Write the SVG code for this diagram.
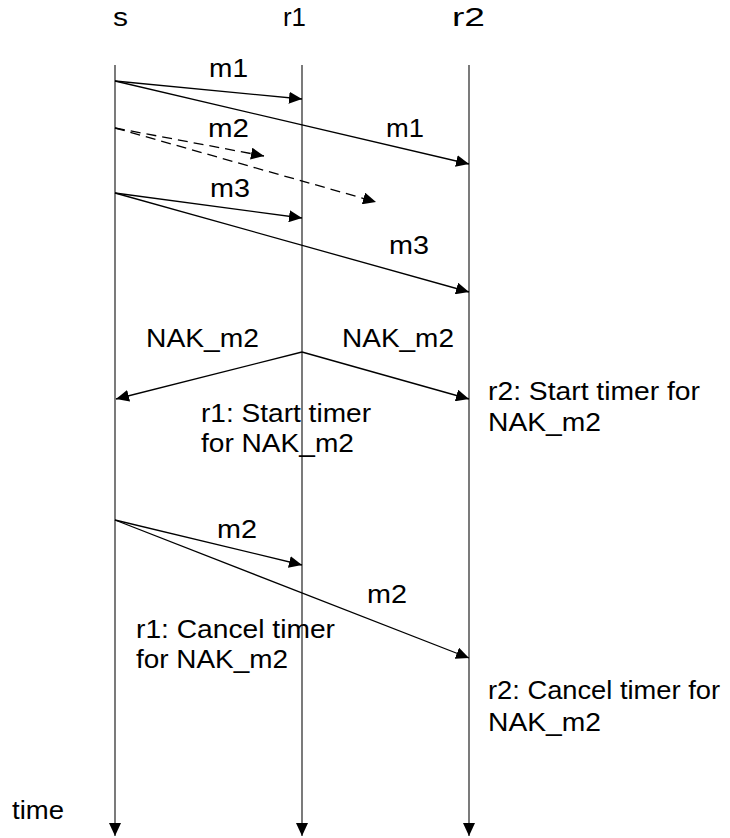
<svg xmlns="http://www.w3.org/2000/svg" width="730" height="838" viewBox="0 0 730 838">
<defs>
<marker id="ah" markerWidth="14" markerHeight="12" refX="13" refY="6" orient="auto" markerUnits="userSpaceOnUse">
<path d="M0,0 L13,6 L0,12 Z" fill="#000"/>
</marker>
<style>
.life{stroke:#333;stroke-width:1.3;fill:none}
.msg{stroke:#000;stroke-width:1.3;fill:none}
.dash{stroke-dasharray:10 6}
text{font-family:"Liberation Sans",Arial,sans-serif;font-size:26px;fill:#000}
</style>
</defs>
<rect width="730" height="838" fill="#fff"/>
<g id="lifeline-s">
<text x="113" y="26" textLength="15" lengthAdjust="spacingAndGlyphs">s</text>
<line class="life" x1="115" y1="65" x2="115" y2="836" marker-end="url(#ah)"/>
</g>
<g id="lifeline-r1">
<text x="283" y="26" textLength="23" lengthAdjust="spacingAndGlyphs">r1</text>
<line class="life" x1="302" y1="65" x2="302" y2="836" marker-end="url(#ah)"/>
</g>
<g id="lifeline-r2">
<text x="452" y="26" textLength="33" lengthAdjust="spacingAndGlyphs">r2</text>
<line class="life" x1="469" y1="65" x2="469" y2="836" marker-end="url(#ah)"/>
</g>
<g id="time-label">
<text x="12" y="819" textLength="52" lengthAdjust="spacingAndGlyphs">time</text>
</g>
<g id="connectors">
<line class="msg" x1="115" y1="81" x2="302" y2="99" marker-end="url(#ah)"/>
<line class="msg" x1="115" y1="81" x2="469" y2="164" marker-end="url(#ah)"/>
<line class="msg dash" x1="115" y1="128" x2="264" y2="156" marker-end="url(#ah)"/>
<line class="msg dash" x1="115" y1="128" x2="376" y2="202" marker-end="url(#ah)"/>
<line class="msg" x1="115" y1="193" x2="302" y2="218" marker-end="url(#ah)"/>
<line class="msg" x1="115" y1="193" x2="469" y2="292" marker-end="url(#ah)"/>
<line class="msg" x1="302" y1="352" x2="116" y2="399" marker-end="url(#ah)"/>
<line class="msg" x1="302" y1="352" x2="469" y2="399" marker-end="url(#ah)"/>
<line class="msg" x1="115" y1="520" x2="302" y2="565" marker-end="url(#ah)"/>
<line class="msg" x1="115" y1="520" x2="469" y2="658" marker-end="url(#ah)"/>
</g>
<g id="labels">
<text x="209" y="77" textLength="39" lengthAdjust="spacingAndGlyphs">m1</text>
<text x="386" y="137" textLength="38" lengthAdjust="spacingAndGlyphs">m1</text>
<text x="208" y="137" textLength="41" lengthAdjust="spacingAndGlyphs">m2</text>
<text x="210" y="197" textLength="40" lengthAdjust="spacingAndGlyphs">m3</text>
<text x="389" y="254" textLength="40" lengthAdjust="spacingAndGlyphs">m3</text>
<text x="146" y="347" textLength="113" lengthAdjust="spacingAndGlyphs">NAK_m2</text>
<text x="342" y="347" textLength="112" lengthAdjust="spacingAndGlyphs">NAK_m2</text>
<text x="201" y="422" textLength="170" lengthAdjust="spacingAndGlyphs">r1: Start timer</text>
<text x="201" y="452" textLength="153" lengthAdjust="spacingAndGlyphs">for NAK_m2</text>
<text x="488" y="400" textLength="212" lengthAdjust="spacingAndGlyphs">r2: Start timer for</text>
<text x="488" y="431" textLength="113" lengthAdjust="spacingAndGlyphs">NAK_m2</text>
<text x="217" y="538" textLength="40" lengthAdjust="spacingAndGlyphs">m2</text>
<text x="367" y="603" textLength="40" lengthAdjust="spacingAndGlyphs">m2</text>
<text x="136" y="638" textLength="199" lengthAdjust="spacingAndGlyphs">r1: Cancel timer</text>
<text x="136" y="668" textLength="152" lengthAdjust="spacingAndGlyphs">for NAK_m2</text>
<text x="488" y="699" textLength="232" lengthAdjust="spacingAndGlyphs">r2: Cancel timer for</text>
<text x="488" y="731" textLength="113" lengthAdjust="spacingAndGlyphs">NAK_m2</text>
</g>
</svg>
